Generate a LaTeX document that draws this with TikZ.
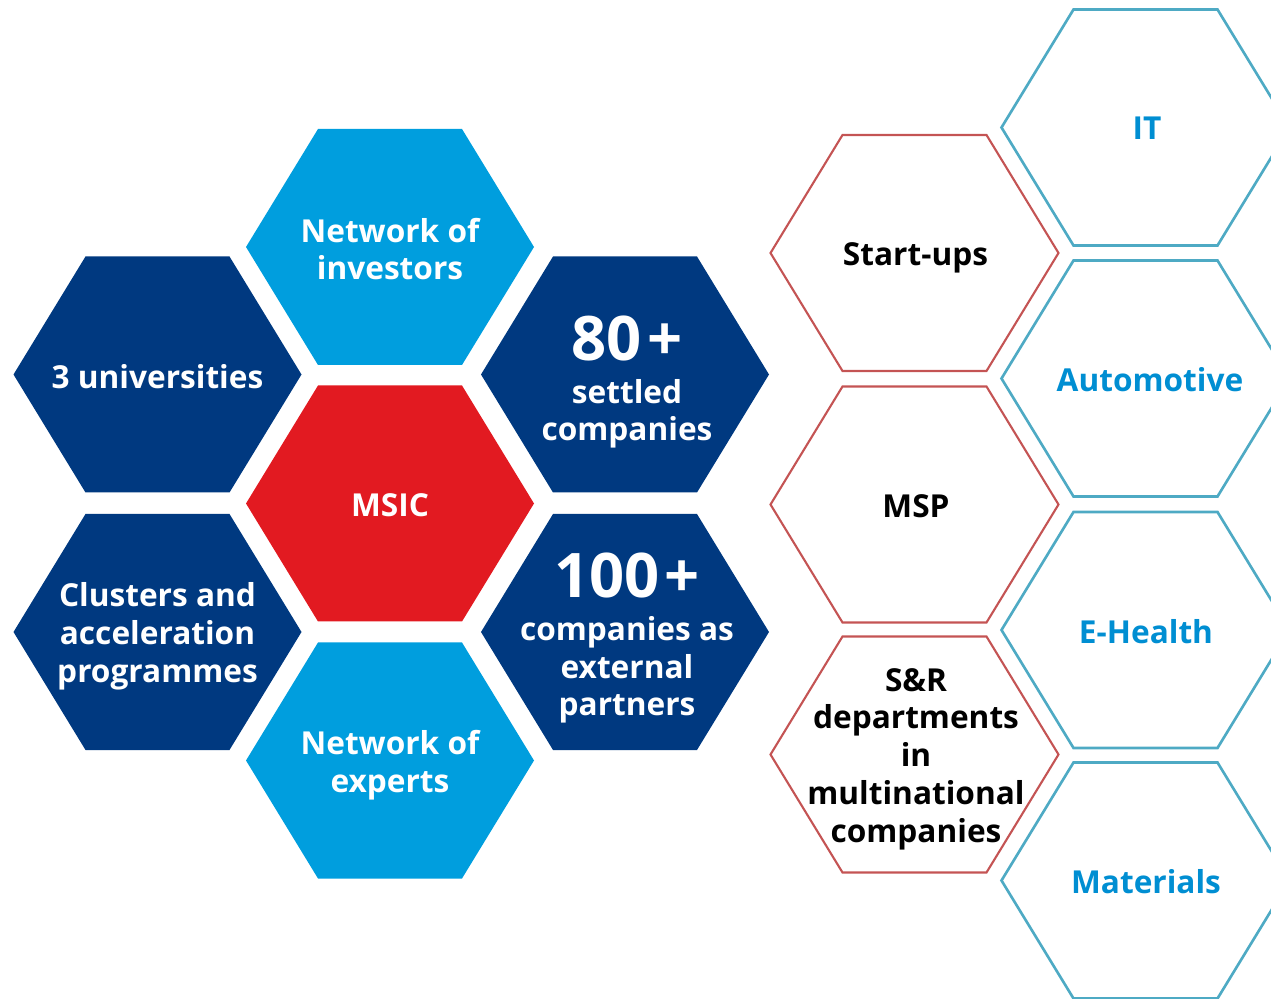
\documentclass[tikz,border=0pt]{standalone}
\usepackage{fontspec}
\setmainfont{Open Sans}
\definecolor{navy}{RGB}{0,57,128}
\definecolor{sky}{RGB}{0,158,222}
\definecolor{hexred}{RGB}{226,26,33}
\definecolor{rimred}{RGB}{196,84,84}
\definecolor{rimblue}{RGB}{78,170,196}
\definecolor{textblue}{RGB}{0,142,210}

\tikzset{
  hexpath/.style={insert path={(-144,0) -- (-72,-118) -- (72,-118) -- (144,0) -- (72,118) -- (-72,118) -- cycle}},
  navyfill/.style={fill=navy},
  skyfill/.style={fill=sky},
  redfill/.style={fill=hexred},
  redrim/.style={draw=rimred, line width=1.2pt},
  bluerim/.style={draw=rimblue, line width=1.5pt},
  hexlabel/.style={align=center, text=white, inner sep=0pt,
    font=\fontsize{18}{21.5}\selectfont\bfseries}
}

\begin{document}
\begin{tikzpicture}[x=0.02cm, y=-0.02cm]
  \useasboundingbox (0,0) rectangle (1271,999);
  \clip (0,0) rectangle (1271,999);

  % left cluster
  \fill[skyfill, shift={(390,247)}, hexpath];
  \fill[navyfill, shift={(157.5,374.5)}, hexpath];
  \fill[navyfill, shift={(625,374.5)}, hexpath];
  \fill[redfill, shift={(390,503.5)}, hexpath];
  \fill[navyfill, shift={(157.5,632)}, hexpath];
  \fill[navyfill, shift={(625,632)}, hexpath];
  \fill[skyfill, shift={(390,760.5)}, hexpath];

  \node[hexlabel] (investors) at (390,249) {Network of\\investors};
  \node[hexlabel] (univ) at (157.5,377) {3 universities};
  \node[hexlabel] (settled) at (627,382) {{\fontsize{35}{40}\selectfont 80\kern3pt+}\\[3pt]settled\\companies};
  \node[hexlabel] (msic) at (390,505) {MSIC};
  \node[hexlabel] (clusters) at (157.5,636.5) {Clusters and\\acceleration\\programmes};
  \node[hexlabel] (partners) at (627,638) {{\fontsize{35}{40}\selectfont 100\kern3pt+}\\[3pt]companies as\\external\\partners};
  \node[hexlabel] (experts) at (390,765.5) {Network of\\experts};

  % right side
  \draw[redrim, shift={(914.5,253)}, hexpath];
  \draw[redrim, shift={(914.5,504.5)}, hexpath];
  \draw[redrim, shift={(914.5,754.5)}, hexpath];
  \draw[bluerim, shift={(1145.5,127.5)}, hexpath];
  \draw[bluerim, shift={(1145.5,378.5)}, hexpath];
  \draw[bluerim, shift={(1145.5,630)}, hexpath];
  \draw[bluerim, shift={(1145.5,880.5)}, hexpath];

  \node[hexlabel, text=black] (startups) at (915.5,258) {Start-ups};
  \node[hexlabel, text=black] (msp) at (916,506) {MSP};
  \node[hexlabel, text=black] (srdep) at (916,759) {S\&R\\departments\\in\\multinational\\companies};
  \node[hexlabel, text=textblue] (it) at (1147,128) {IT};
  \node[hexlabel, text=textblue] (auto) at (1150,380) {Automotive};
  \node[hexlabel, text=textblue] (ehealth) at (1146,632) {E-Health};
  \node[hexlabel, text=textblue] (materials) at (1146,882) {Materials};
\end{tikzpicture}
\end{document}
